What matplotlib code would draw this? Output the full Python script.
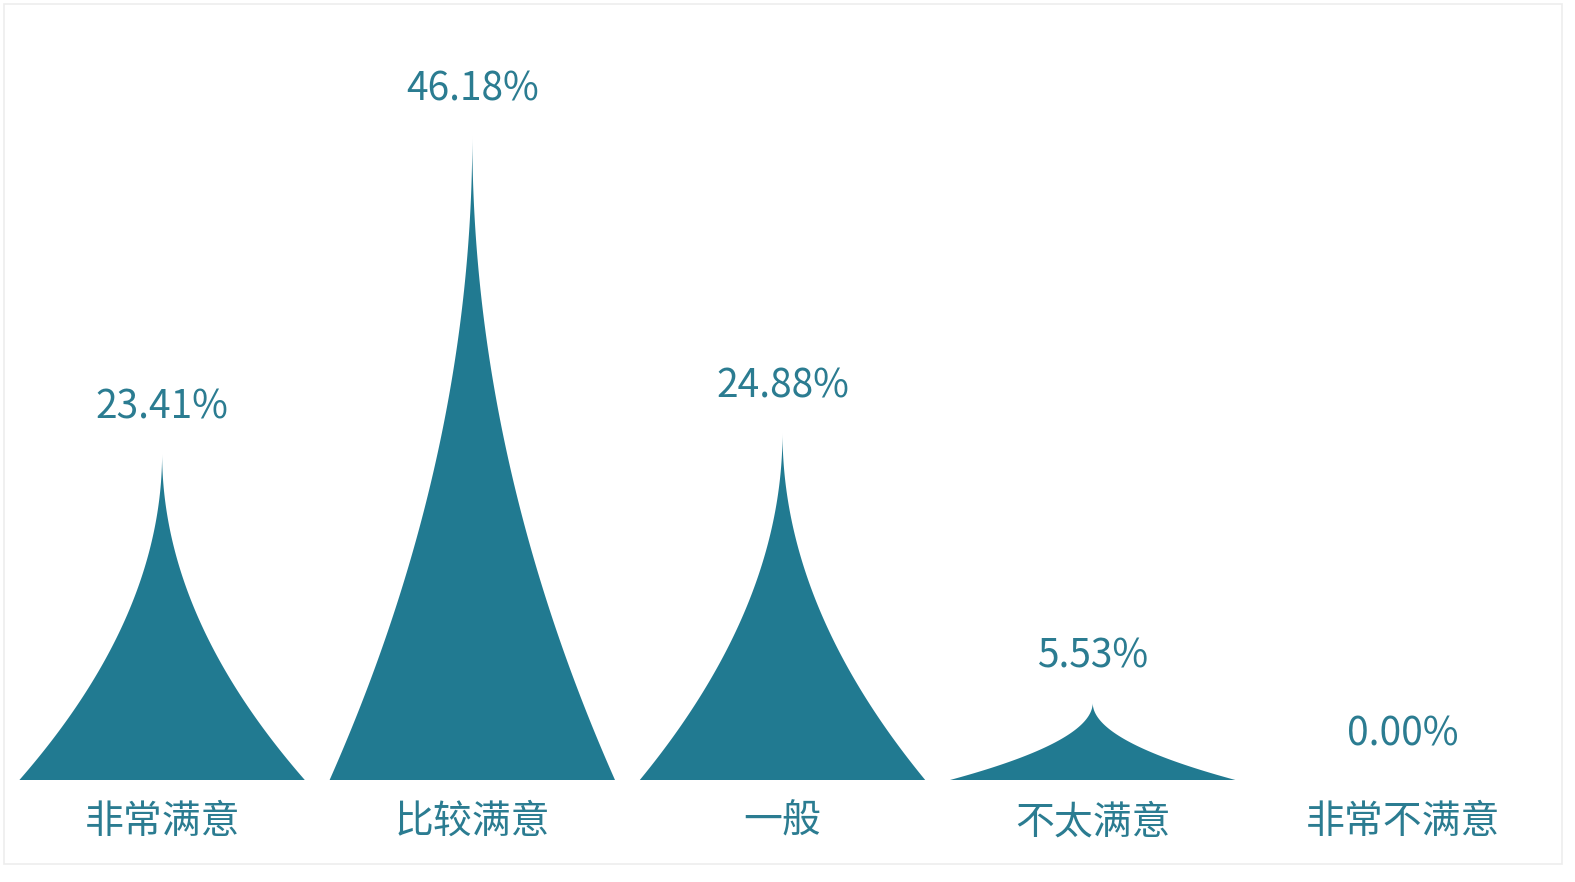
import numpy as np
import matplotlib.pyplot as plt
from matplotlib.patches import Polygon, Rectangle

plt.rcParams['font.family'] = ['Noto Sans CJK SC', 'DejaVu Sans']

categories = ['非常满意', '比较满意', '一般', '不太满意', '非常不满意']
values = [23.41, 46.18, 24.88, 5.53, 0.00]
value_labels = ['23.41%', '46.18%', '24.88%', '5.53%', '0.00%']

bar_color = '#217a91'
text_color = '#2b7c91'

fig = plt.figure(figsize=(15.75, 8.82), dpi=100)
# faint screenshot frame
fig.patches.append(Rectangle((4 / 1575, 18 / 882), 1558 / 1575, 860 / 882,
                             transform=fig.transFigure, fill=False,
                             edgecolor='#ededed', linewidth=1.2))

ax = fig.add_axes([7 / 1575, 102 / 882, 1551 / 1575, 698 / 882])
ax.set_xlim(-0.5, len(categories) - 0.5)
ax.set_ylim(0, 50)
ax.axis('off')

half_w = 0.46
h = np.linspace(0, 1, 200)
w = (1 - h) ** 2.0  # concave spike outline

for i, v in enumerate(values):
    if v > 0:
        xs = np.concatenate([i + half_w * w, (i - half_w * w)[::-1]])
        ys = np.concatenate([v * h, (v * h)[::-1]])
        ax.add_patch(Polygon(np.column_stack([xs, ys]), closed=True,
                             facecolor=bar_color, edgecolor='none'))
    ax.annotate(value_labels[i], (i, v), xytext=(0, 46), textcoords='offset pixels',
                ha='center', va='center', fontsize=28, color=text_color)
    ax.annotate(categories[i], (i, 0), xytext=(0, -42), textcoords='offset pixels',
                ha='center', va='center', fontsize=28, color=text_color)

fig.savefig('out.png', dpi=100, facecolor='white')
